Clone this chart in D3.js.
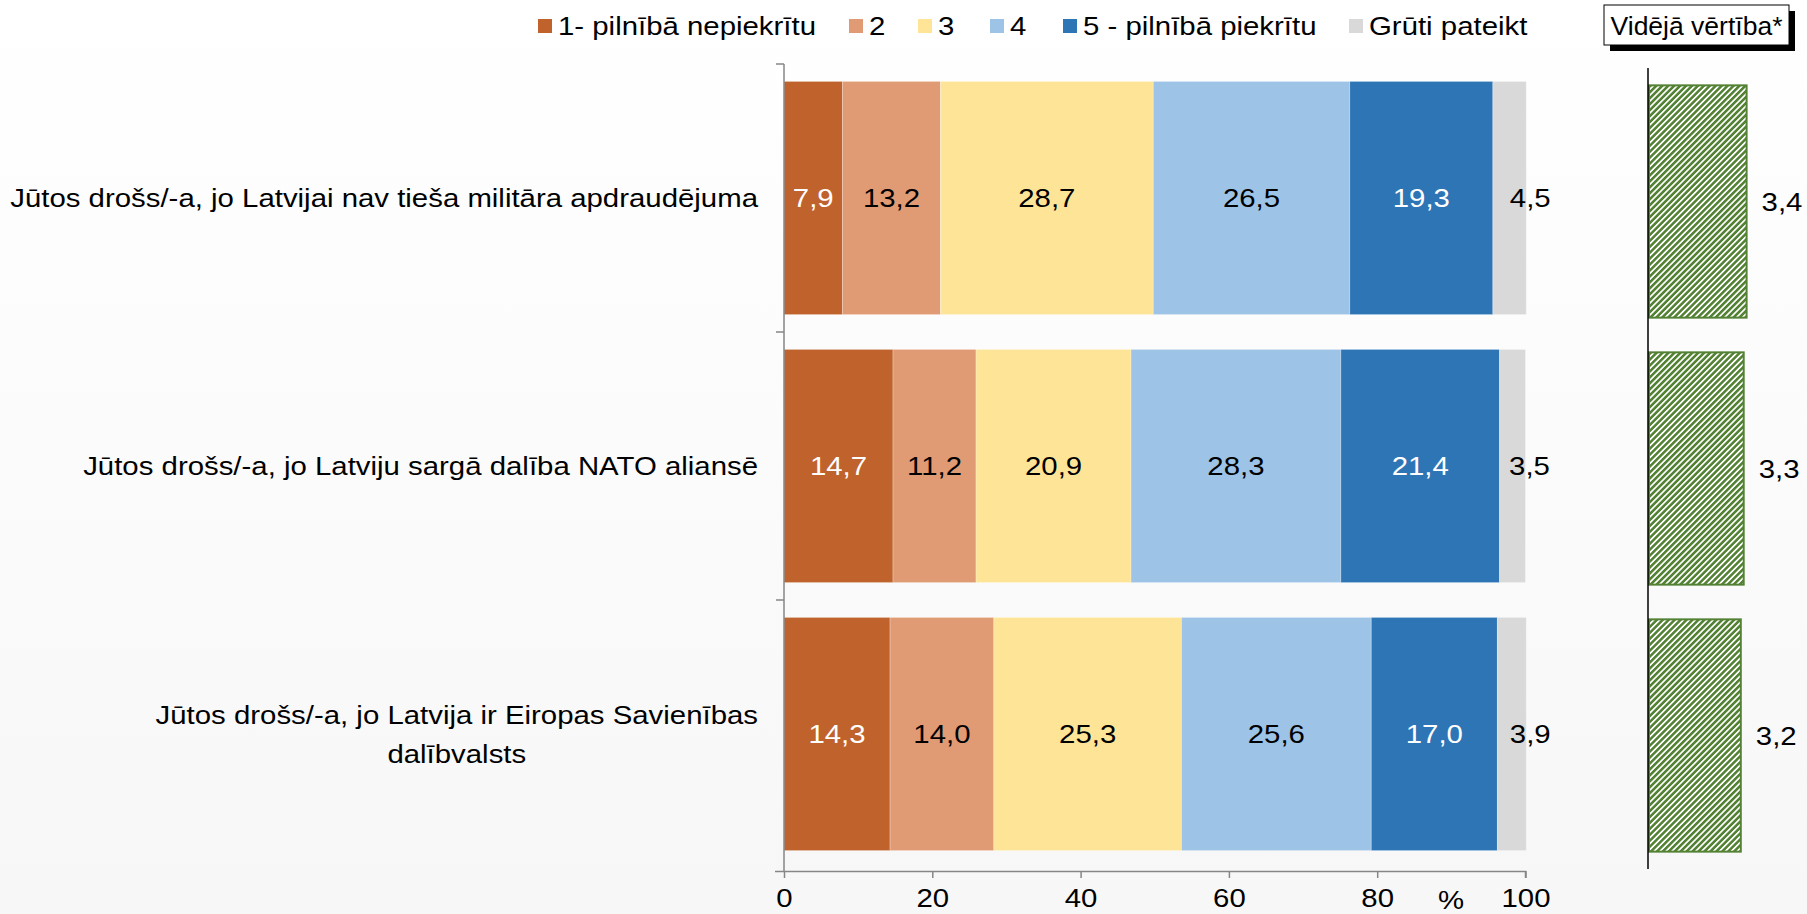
<!DOCTYPE html>
<html>
<head>
<meta charset="utf-8">
<script src="https://cdn.jsdelivr.net/npm/d3@7"></script>
<style>
  body { margin: 0; background: #fff; }
  text { font-family: "Liberation Sans", Arial, sans-serif; fill: #000; }
</style>
</head>
<body>
<div id="chart"></div>
<script>

// data
var categories = [
  "Jūtos drošs/-a, jo Latvijai nav tieša militāra apdraudējuma",
  "Jūtos drošs/-a, jo Latviju sargā dalība NATO aliansē",
  "Jūtos drošs/-a, jo Latvija ir Eiropas Savienības dalībvalsts"
];
var seriesNames = ["1- pilnībā nepiekrītu", "2", "3", "4", "5 - pilnībā piekrītu", "Grūti pateikt"];
var s1 = [7.9, 14.7, 14.3];
var s2 = [13.2, 11.2, 14.0];
var s3 = [28.7, 20.9, 25.3];
var s4 = [26.5, 28.3, 25.6];
var s5 = [19.3, 21.4, 17.0];
var sDk = [4.5, 3.5, 3.9];
var means = [3.4, 3.3, 3.2];
var xTicks = [0, 20, 40, 60, 80, 100];
var meanTitle = "Vidējā vērtība*";

var colors = ["#C0622B", "#E09A74", "#FEE497", "#9DC3E6", "#2E75B6", "#D9D9D9"];
var labelColors = ["#fff", "#000", "#000", "#000", "#fff", "#000"];
var stretch = 1.13;   // text in the picture is a bit wider than Arial

var svgWidth = 1807, svgHeight = 914;

var svg = d3.select("#chart").append("svg")
  .attr("width", svgWidth)
  .attr("height", svgHeight);

// faint background
var defs = svg.append("defs");
var grad = defs.append("linearGradient").attr("id", "bg")
  .attr("x1", 0).attr("y1", 0).attr("x2", 0).attr("y2", 1);
grad.append("stop").attr("offset", "0%").attr("stop-color", "#ffffff");
grad.append("stop").attr("offset", "100%").attr("stop-color", "#f7f7f7");
svg.append("rect").attr("width", svgWidth).attr("height", svgHeight).attr("fill", "url(#bg)");

// hatch for the mean bars
var hatch = defs.append("pattern").attr("id", "hatch")
  .attr("patternUnits", "userSpaceOnUse")
  .attr("width", 4.2).attr("height", 4.2)
  .attr("patternTransform", "rotate(45)");
hatch.append("rect").attr("width", 4.2).attr("height", 4.2).attr("fill", "#fff");
hatch.append("line").attr("x1", 1.2).attr("y1", 0).attr("x2", 1.2).attr("y2", 4.2)
  .attr("stroke", "#548235").attr("stroke-width", 2.6);

// helper: place a text with horizontal stretch
function putText(g, str, x, y, anchor, sx) {
  return g.append("text")
    .attr("transform", "translate(" + x + "," + y + ") scale(" + (sx || stretch) + ",1)")
    .attr("text-anchor", anchor)
    .attr("dy", "0.35em")
    .style("font-size", "26px")
    .text(str);
}

// table for the stack
var table = categories.map(function(c, i) {
  return { cat: c, k0: s1[i], k1: s2[i], k2: s3[i], k3: s4[i], k4: s5[i], k5: sDk[i] };
});
var keys = ["k0", "k1", "k2", "k3", "k4", "k5"];
var stacked = d3.stack().keys(keys)(table);

// scales
var xScale = d3.scaleLinear().domain([0, 100]).range([784, 1525.5]);
var yScale = d3.scaleBand().domain(categories).range([64, 868])
  .paddingInner(0.13).paddingOuter(0.065);

// bars
var layers = svg.append("g").selectAll("g")
  .data(stacked)
  .enter().append("g")
  .attr("fill", function(d, i) { return colors[i]; });

layers.selectAll("rect")
  .data(function(d) { return d; })
  .enter().append("rect")
  .attr("x", function(d) { return xScale(d[0]); })
  .attr("y", function(d) { return yScale(d.data.cat); })
  .attr("width", function(d) { return xScale(d[1]) - xScale(d[0]); })
  .attr("height", yScale.bandwidth())
  .attr("stroke", "#fff")
  .attr("stroke-opacity", 0.35)
  .attr("stroke-width", 0.8);

// value labels
var labelGroup = svg.append("g");
stacked.forEach(function(layer, li) {
  layer.forEach(function(d) {
    var cx = (li === 5) ? xScale(d[1]) + 4 : (xScale(d[0]) + xScale(d[1])) / 2;
    var cy = yScale(d.data.cat) + yScale.bandwidth() / 2;
    putText(labelGroup, d3.format(".1f")(d[1] - d[0]).replace(".", ","), cx, cy, "middle")
      .style("fill", labelColors[li]);
  });
});

// x axis
var xAxis = d3.axisBottom(xScale).tickValues(xTicks).tickSize(7).tickPadding(11)
  .tickFormat(function(d) { return d; });
var gx = svg.append("g").attr("transform", "translate(0,871)").call(xAxis);
gx.select(".domain").attr("d", "M775,0.5H1525.5V7").attr("stroke", "#868686").attr("stroke-width", 1.5);
gx.selectAll(".tick line").attr("stroke", "#868686").attr("stroke-width", 1.5);
gx.selectAll(".tick text")
  .style("font-size", "26px").attr("font-family", null)
  .attr("transform", "scale(" + stretch + ",1)");
putText(svg, "%", 1451, 900, "middle");

// y axis line with ticks between categories
var yLine = svg.append("g").attr("stroke", "#868686").attr("stroke-width", 1.5);
yLine.append("line").attr("x1", 784).attr("x2", 784).attr("y1", 64).attr("y2", 871);
[64, 64 + yScale.step(), 64 + 2 * yScale.step()].forEach(function(y) {
  yLine.append("line").attr("x1", 776).attr("x2", 784).attr("y1", y).attr("y2", y);
});

// category labels (last one on two lines, centred)
var catGroup = svg.append("g");
categories.forEach(function(c, i) {
  var cy = yScale(c) + yScale.bandwidth() / 2;
  if (i < 2) {
    putText(catGroup, c, 758, cy, "end");
  } else {
    var line1 = "Jūtos drošs/-a, jo Latvija ir Eiropas Savienības";
    var line2 = "dalībvalsts";
    var t1 = putText(catGroup, line1, 758, cy - 19.5, "end");
    var w = t1.node().getComputedTextLength() * stretch;
    putText(catGroup, line2, 758 - w / 2, cy + 19.5, "middle");
  }
});

// legend
var legendX = [538, 849, 918, 990, 1063, 1349];
var legend = svg.append("g");
seriesNames.forEach(function(name, i) {
  legend.append("rect")
    .attr("x", legendX[i]).attr("y", 19)
    .attr("width", 14).attr("height", 14)
    .attr("fill", colors[i]);
  putText(legend, name, legendX[i] + 20, 26, "start");
});

// mean value panel
var mScale = d3.scaleLinear().domain([0, 5]).range([1648, 1793]);
var mBand = d3.scaleBand().domain(categories).range([68, 869])
  .paddingInner(0.13).paddingOuter(0.065);

svg.append("g").selectAll("rect")
  .data(means)
  .enter().append("rect")
  .attr("x", mScale(0) + 1)
  .attr("y", function(d, i) { return mBand(categories[i]); })
  .attr("width", function(d) { return mScale(d) - mScale(0) - 1; })
  .attr("height", mBand.bandwidth())
  .attr("fill", "url(#hatch)")
  .attr("stroke", "#548235")
  .attr("stroke-width", 2);

svg.append("line")
  .attr("x1", 1648).attr("x2", 1648).attr("y1", 68).attr("y2", 869)
  .attr("stroke", "#000").attr("stroke-width", 1.5);

var meanLabels = svg.append("g");
means.forEach(function(d, i) {
  putText(meanLabels, d3.format(".1f")(d).replace(".", ","),
    mScale(d) + 15, mBand(categories[i]) + mBand.bandwidth() / 2, "start");
});

// title box for the mean panel, with shadow
svg.append("rect").attr("x", 1610).attr("y", 11).attr("width", 185).attr("height", 40).attr("fill", "#000");
svg.append("rect").attr("x", 1604).attr("y", 5).attr("width", 185).attr("height", 40)
  .attr("fill", "#fff").attr("stroke", "#000").attr("stroke-width", 1);
putText(svg, meanTitle, 1696.5, 25.5, "middle", 1.02);

</script>
</body>
</html>
